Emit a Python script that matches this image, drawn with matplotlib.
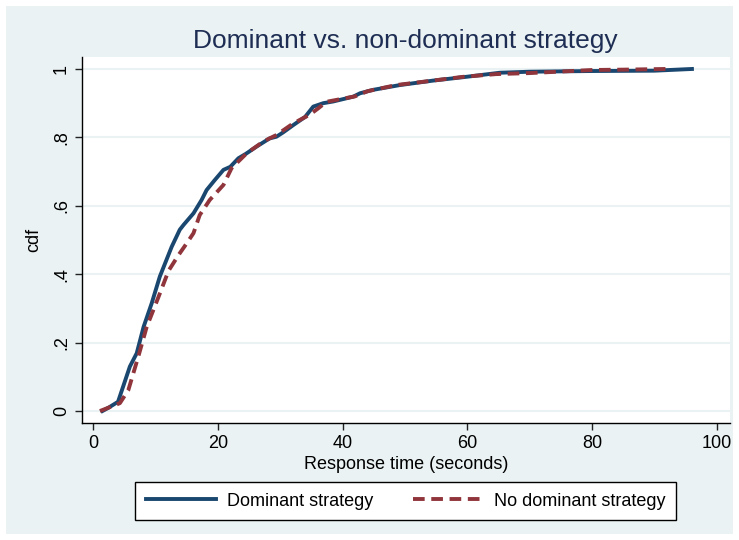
import numpy as np
import matplotlib.pyplot as plt
from matplotlib.patches import Rectangle

plt.rcParams['font.family'] = ['Liberation Sans Narrow', 'Liberation Sans', 'DejaVu Sans']

# response times (seconds) and cdf values
dom_x = [1.5, 2.5, 4.0, 5.9, 7.0, 8.1, 9.4, 10.7, 12.6, 13.9, 14.5, 16.1, 17.4,
         18.2, 19.5, 20.9, 22.0, 23.3, 24.5, 26.2, 28.3, 29.4, 30.5, 32.1, 34.0,
         35.3, 36.9, 38.5, 40.1, 41.7, 42.8, 44.9, 49.2, 54.5, 59.8, 65.2, 70.0,
         80.0, 90.0, 96.0]
dom_y = [0.0, 0.01, 0.027, 0.13, 0.169, 0.246, 0.315, 0.393, 0.48, 0.53, 0.544,
         0.578, 0.617, 0.646, 0.675, 0.705, 0.714, 0.739, 0.752, 0.773, 0.797,
         0.802, 0.815, 0.836, 0.86, 0.89, 0.90, 0.905, 0.912, 0.919, 0.929, 0.939,
         0.953, 0.966, 0.977, 0.989, 0.992, 0.994, 0.995, 1.0]

nodom_x = [1.1, 2.5, 4.3, 5.65, 7.25, 8.6, 10.5, 12.1, 13.7, 15.0, 16.1, 17.1,
           18.7, 20.9, 22.2, 24.6, 27.3, 29.4, 32.1, 34.7, 36.1, 37.4, 40.0, 42.0,
           44.0, 48.6, 54.0, 59.3, 64.6, 70.0, 80.0, 85.0, 91.9]
nodom_y = [0.0, 0.01, 0.023, 0.061, 0.159, 0.246, 0.334, 0.41, 0.456, 0.49, 0.52,
           0.573, 0.617, 0.661, 0.71, 0.753, 0.788, 0.807, 0.841, 0.866, 0.885,
           0.904, 0.913, 0.92, 0.935, 0.953, 0.965, 0.977, 0.985, 0.988, 0.997,
           0.998, 1.0]

yticks = [0, 0.2, 0.4, 0.6, 0.8, 1.0]
ytick_labels = ['0', '.2', '.4', '.6', '.8', '1']
xticks = [0, 20, 40, 60, 80, 100]

W, H = 739, 540
fig = plt.figure(figsize=(W / 100, H / 100), dpi=100, facecolor='white')
bg = '#EAF2F3'
fig.patches.append(Rectangle((6 / W, 6 / H), (W - 12) / W, (H - 12) / H,
                             transform=fig.transFigure, facecolor=bg,
                             edgecolor='none', zorder=-10))

ax = fig.add_axes([81.7 / W, 1 - 423 / H, (730 - 81.7) / W, (423 - 57) / H])
ax.set_facecolor('white')

ax.plot(dom_x, dom_y, color='#1A476F', lw=2.8, label='Dominant strategy',
        solid_joinstyle='round')
ax.plot(nodom_x, nodom_y, color='#90353B', lw=2.8, ls=(0, (3, 1.7)),
        label='No dominant strategy')

ax.set_xlim(-1.82, 102.1)
ax.set_ylim(-0.035, 1.035)
ax.set_xticks(xticks)
ax.set_yticks(yticks)
ax.set_yticklabels(ytick_labels, rotation=90, va='center')
ax.tick_params(labelsize=13, length=5, width=1, color='#222222', labelcolor='black')
ax.grid(axis='y', color=bg, lw=1.5)
ax.set_axisbelow(True)
for s in ['top', 'right']:
    ax.spines[s].set_visible(False)
for s in ['left', 'bottom']:
    ax.spines[s].set_color('black')
    ax.spines[s].set_linewidth(1)

ax.set_xlabel('Response time (seconds)', fontsize=13, labelpad=3)
ax.set_ylabel('cdf', fontsize=13, labelpad=8)

fig.text(405.5 / W, 1 - 41 / H, 'Dominant vs. non-dominant strategy',
         fontsize=19, color='#1E2D53', ha='center', va='center')

leg = fig.legend(loc='center', bbox_to_anchor=(405.5 / W, 1 - 501 / H), ncol=2,
                 fontsize=13, handlelength=3.9, columnspacing=2.2,
                 fancybox=False, edgecolor='black', framealpha=1,
                 borderpad=0.6, handletextpad=0.6)
leg.get_frame().set_linewidth(1)

fig.savefig('out.png', dpi=100, facecolor='white')
